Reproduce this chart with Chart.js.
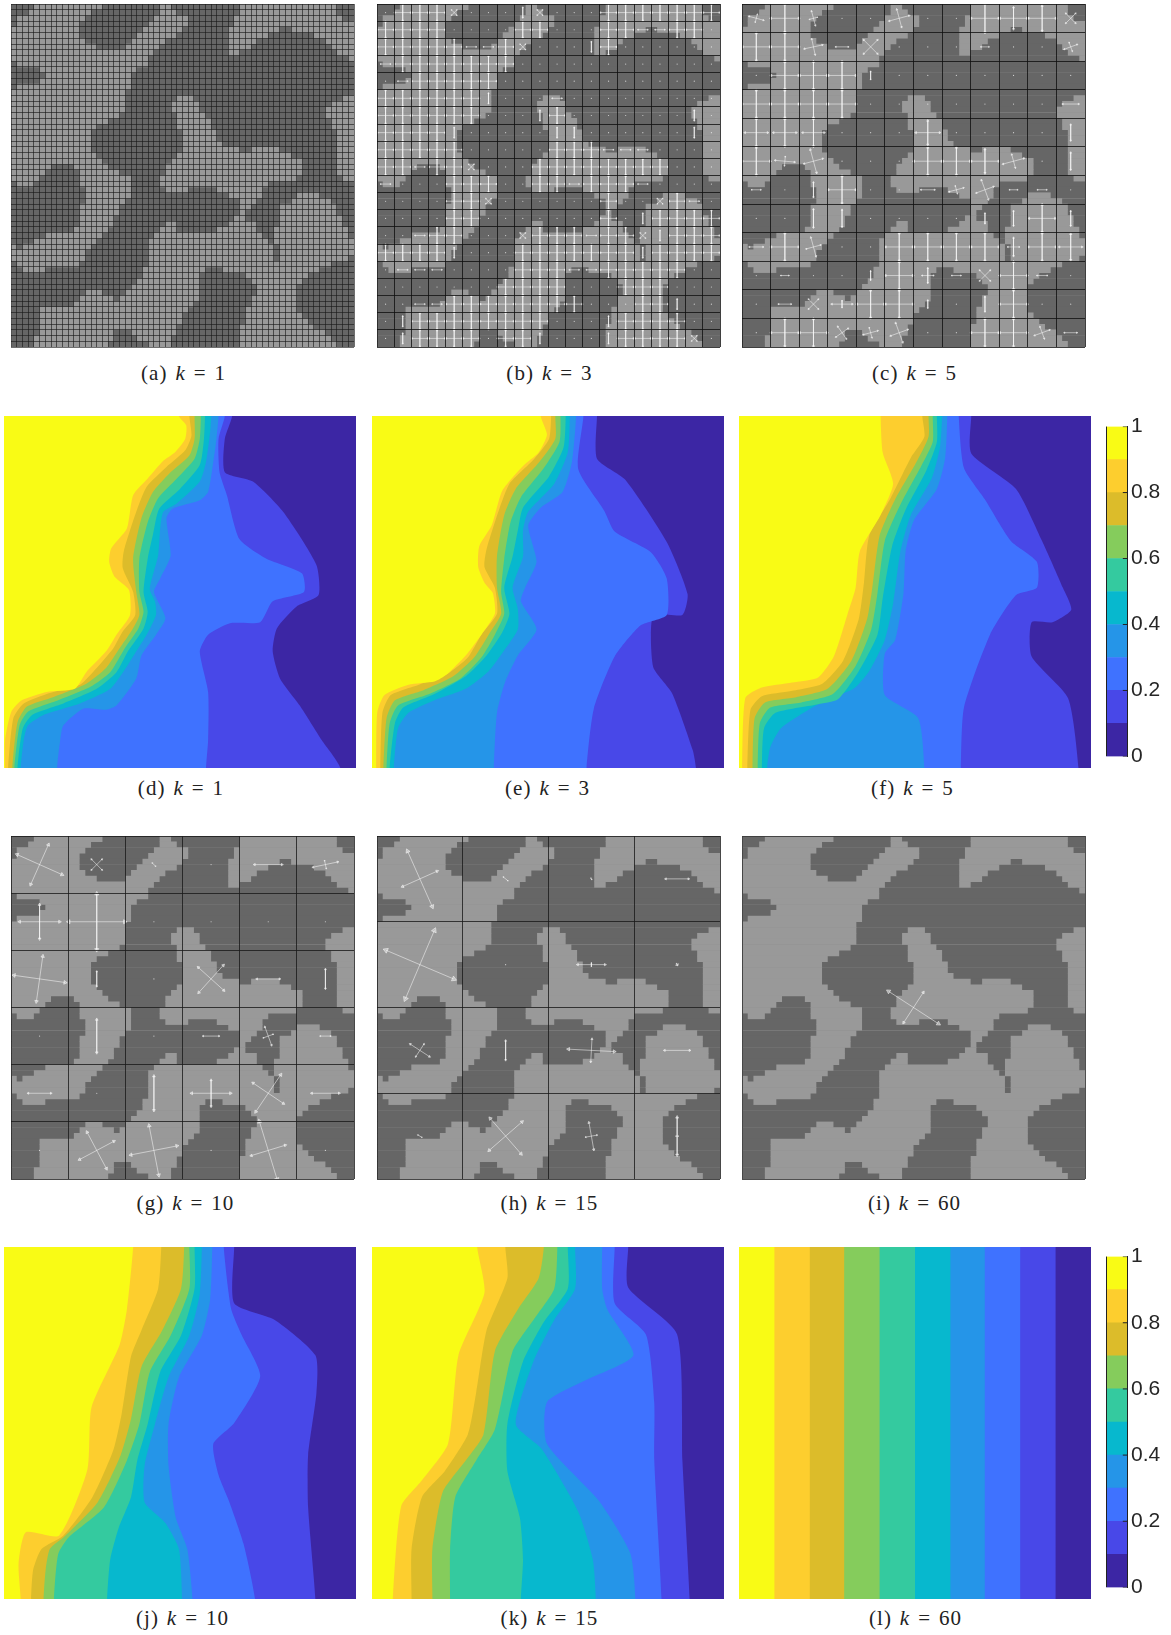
<!DOCTYPE html>
<html>
<head>
<meta charset="utf-8">
<title>Multiscale basis functions</title>
<script src="https://cdn.jsdelivr.net/npm/chart.js@4"></script>
<style>
    html, body { margin: 0; background: #fff; }
    #page { position: relative; width: 1171px; height: 1635px; overflow: hidden; }
    canvas { position: absolute; display: block; }
    .cap { position: absolute; width: 240px; margin-left: -120px; text-align: center; color: #222;
           font: 21px "Liberation Serif", serif; letter-spacing: 1.1px; word-spacing: 1.5px; line-height: 24px; }
</style>
</head>
<body>
<div id="page"></div>
<script>
// Light cells of the 60x60 field, one list of [from, to] columns for each row
const lightRows = [
    [[4,16],[26,28],[40,57]], [[3,14],[26,29],[40,57]], [[1,13],[25,31],[39,58]], [[1,12],[24,31],[39,60]],
    [[0,12],[23,30],[38,47],[49,60]], [[0,12],[22,29],[38,45],[53,60]], [[0,13],[21,27],[38,43],[55,60]],
    [[0,15],[20,26],[38,42],[56,60]], [[0,25],[38,40],[57,60]], [[0,24],[59,60]], [[1,24]], [[5,22]], [[6,21]],
    [[5,21]], [[1,21]], [[0,20]], [[0,20],[29,32],[58,60]], [[0,20],[28,33],[56,60]], [[0,20],[28,33],[55,60]],
    [[0,19],[29,34],[55,60]], [[0,17],[29,35],[56,60]], [[0,15],[29,35],[56,60]], [[0,14],[30,36],[57,60]],
    [[0,14],[30,36],[57,60]], [[0,14],[30,37],[57,60]], [[0,14],[30,40],[42,47],[57,60]], [[0,15],[29,49],[57,60]],
    [[0,16],[28,51],[57,60]], [[0,7],[11,17],[27,51],[57,60]], [[0,6],[12,19],[27,51],[57,60]],
    [[0,5],[12,21],[26,50],[58,60]], [[1,4],[12,21],[26,45]], [[13,21],[27,31],[36,44]],
    [[13,21],[38,44],[50,54]], [[13,20],[40,43],[49,56]], [[12,19],[40,42],[47,57]], [[12,19],[40,41],[47,57]],
    [[12,18],[39,41],[47,58]], [[12,18],[27,29],[38,43],[47,58]], [[11,17],[26,29],[36,43],[46,59]],
    [[6,16],[25,44],[46,59]], [[4,15],[24,45],[46,60]], [[0,1],[2,14],[24,46],[47,60]], [[0,13],[24,46],[47,60]],
    [[0,13],[24,46],[47,59]], [[1,12],[24,56]], [[2,6],[23,34],[37,54]], [[23,33],[41,52]], [[22,33],[42,51]],
    [[21,33],[43,50]], [[13,16],[20,33],[43,50]], [[12,18],[19,33],[42,50]], [[11,32],[42,50]], [[5,31],[41,50]],
    [[5,30],[41,51]], [[5,30],[41,52]], [[5,29],[40,53]], [[5,18],[21,29],[40,55]], [[4,18],[22,28],[40,56]],
    [[4,17],[24,28],[40,57]]
];

// Panel (b): what each of the 20x20 coarse cells shows
const codesB = [
    ".+++x...|x...+++++++", "++++....++...++--++.", "+++++--+x...|+......", "-+++++++............",
    ".-+++++.............", "++++++|...-.........", "++++++...|+.......|.", "++++|.....||......|.",
    "+++++.....+++---....", "++-++x...++++++++...", "-...+++..++-+++-....", "....++x......+..x+-.",
    "....++.......+.|++++", "..-++...x+++-++x|+++", "++++|...+++++++|++++", ".---....+++--+++++..",
    ".......++++...+++...", "..--++++++++...++|..", ".|++++++++...|++++..", ".|++++.++|...|++++x."
];

// Arrow crosses: [column, row, half length, perpendicular half length, angle in degrees]
const arrowsC = [
    [0,0,1.3,.7,15],[1,0,2.45,2.45,0],[2,0,.7,1.3,-15],[5,0,1.8,1.6,-15],[8,0,2.4,2.5,0],[9,0,2.4,1.9,0],[10,0,2.4,2.2,0],[11,0,1.2,1.2,45],
    [0,1,2.4,2.4,0],[1,1,2.45,2.4,0],[2,1,1.6,1.4,-12],[3,1,1.1,0,0],[4,1,1.7,1.7,45],[8,1,.7,0,0],[11,1,1.2,.8,-20],
    [1,2,2.4,2.4,0],[2,2,2.4,2.4,0],[3,2,2.4,2.4,0],[4,2,0,.7,0],
    [0,3,2.45,2.4,0],[1,3,2.45,2.4,0],[2,3,2.45,2.4,0],[3,3,2.45,2.4,0],[11,3,1.4,0,0],
    [0,4,2,2.4,0],[1,4,2,2.4,0],[2,4,1.9,2.4,0],[6,4,2.1,2.1,0],[11,4,0,1.4,0],
    [0,5,2.45,2.4,0],[1,5,1.7,.8,5],[2,5,1.7,2.1,-15],[6,5,2.45,2.4,0],[7,5,2.4,2.4,0],[8,5,2.4,2.1,0],[9,5,1.9,1.2,-15],[11,5,0,1.5,0],
    [0,6,.8,0,0],[2,6,0,1.3,0],[3,6,2.4,2.4,0],[6,6,1.2,0,0],[7,6,1.3,.7,-15],[8,6,1.6,1.8,-20],[9,6,.7,0,0],[10,6,.8,0,0],
    [2,7,0,1.6,0],[3,7,0,1.5,0],[8,7,0,.9,0],[9,7,0,1.3,0],[10,7,2.3,2.4,0],[11,7,0,1.3,0],
    [0,8,1.2,0,0],[1,8,2.4,2.4,0],[2,8,1.3,1.7,-15],[5,8,2.4,2.4,0],[6,8,2.4,2.4,0],[7,8,2.4,2.4,0],[8,8,2.4,2.4,0],[9,8,1,1.6,0],[10,8,2.4,2.4,0],[11,8,2,2.3,0],
    [1,9,.7,0,0],[4,9,0,.8,0],[5,9,2.4,2.4,0],[6,9,1,1.3,0],[7,9,.8,0,0],[8,9,1.3,1.3,45],[9,9,2.4,2.4,0],[10,9,.9,0,0],
    [1,10,1.1,0,0],[2,10,1.2,1.2,45],[3,10,1.8,.6,0],[4,10,2.4,2.4,0],[5,10,2.4,2.4,0],[6,10,0,.7,0],[8,10,0,1.3,0],[9,10,2.4,2.4,0],
    [1,11,2.4,2.4,0],[2,11,2.4,2.4,0],[3,11,1.3,1.3,55],[4,11,1.3,.9,-15],[5,11,1.6,1.8,-20],[8,11,2.4,2.4,0],[9,11,2.4,2.4,0],[10,11,1.4,1.1,-20],[11,11,1.1,0,0]
];
const arrowsG = [
    [0,0,4.3,3.8,24],[1,0,1.3,1.3,45],[2,0,.4,0,45],[4,0,2.4,0,0],[5,0,2.2,.7,-12],
    [0,1,3.5,3,0],[1,1,4.9,4.9,0],
    [0,2,4.5,4,8],[1,2,0,1.3,0],[3,2,3,3.2,42],[4,2,2,0,0],[5,2,0,1.7,0],
    [1,3,0,2.9,0],[3,3,1.4,0,0],[4,3,.9,1.7,-20],[5,3,.9,0,0],
    [0,4,2,0,0],[2,4,0,3,0],[3,4,3.4,2.3,0],[4,4,3.2,3.9,34],[5,4,2.4,0,0],
    [1,5,3.4,3.6,-28],[2,5,4.1,4.4,-11],[4,5,3.1,5.3,-17]
];
const arrowsH = [
    [0,0,3.3,5.3,-24],[1,0,.5,0,40],[2,0,.15,0,60],[3,0,2,0,0],
    [0,1,6.45,6.5,23],[2,1,2.4,.3,0],[3,1,.2,.2,60],
    [0,2,2,1.3,33],[1,2,0,1.7,0],[2,2,4,2,3],[3,2,2.2,0,0],
    [0,3,.4,0,30],[1,3,3.8,4.1,-41],[2,3,1,2.4,-10],[3,3,.2,3.3,0]
];
const arrowsI = [[0,0,5.2,3.15,33]];

// Colours of the ten bands, from 1 down to 0
const bandColors = ['#f9fb15','#fdce2e','#dcbc2a','#85cc5c','#34ca9f','#07b8ce','#2595e8','#3f72ff','#4848e8','#3c26a4'];

// Band edges of the contour panels, x,y pairs (0 to 338)
const contourD = [
    [168,0,175,9,174,22,164,35,153,43,138,60,124,76,118,108,103,127,101,140,106,154,120,167,121,191,108,210,98,226,79,246,68,262,41,265,17,273,7,284,1,311,1,338],
    [178,0,180,19,174,33,156,49,137,68,127,92,115,130,114,146,124,169,126,191,114,207,105,223,89,242,73,258,44,266,19,276,9,290,4,338],
    [183,0,183,22,178,38,159,55,143,73,132,98,124,137,127,169,130,191,122,207,111,223,98,242,79,257,47,270,22,279,13,294,8,338],
    [189,0,188,22,183,41,166,60,148,79,138,102,130,137,130,169,134,188,129,204,116,223,102,246,83,260,52,273,23,284,15,297,10,338],
    [193,0,192,22,188,47,169,70,149,89,143,114,138,137,134,169,138,188,134,204,119,226,108,246,89,262,57,276,27,287,18,300,13,338],
    [199,0,198,15,194,44,188,63,166,84,153,92,150,108,148,134,140,166,145,178,146,191,137,210,127,226,119,239,102,262,73,276,38,287,23,297,19,311,16,338],
    [206,0,204,22,201,44,196,73,188,81,162,89,156,98,160,134,150,156,144,169,155,194,146,210,132,230,127,252,108,278,98,282,76,281,57,297,54,311,51,338],
    [212,0,206,22,207,54,214,76,226,118,252,137,286,151,288,169,258,178,246,198,217,199,196,210,188,226,196,265,196,311,194,338],
    [219,0,212,22,212,54,239,63,268,92,300,143,302,172,281,183,262,204,258,226,265,252,284,278,305,311,323,338]
];
const contourE = [
    [162,0,168,18,160,35,145,48,125,72,115,105,103,125,102,145,108,160,116,170,118,190,105,210,90,230,72,248,60,255,35,258,12,268,5,285,4,338],
    [172,0,170,22,155,42,132,65,122,90,110,128,108,145,118,165,120,190,105,210,92,232,72,248,45,258,18,268,10,285,8,338],
    [176,0,176,22,160,45,138,70,127,95,120,135,120,165,124,190,112,210,98,232,78,250,50,263,22,273,14,290,11,338],
    [181,0,180,25,165,50,143,78,133,102,127,137,124,169,127,190,118,210,105,232,85,252,55,267,25,278,17,295,14,338],
    [186,0,184,30,170,58,145,88,140,110,135,135,127,165,132,190,125,208,110,230,90,250,60,267,30,280,22,295,17,338],
    [190,0,188,35,175,65,150,92,145,110,145,135,135,165,140,185,140,205,127,225,112,245,90,262,60,273,35,285,25,300,21,338],
    [196,0,192,44,183,73,162,88,150,105,158,140,147,165,143,178,158,205,140,230,128,255,120,285,117,338],
    [203,0,198,51,223,91,233,111,268,131,283,156,283,191,258,201,233,231,213,281,206,338],
    [216,0,216,41,243,61,283,121,303,171,298,191,270,191,270,241,288,266,308,321,311,338]
];
const contourF = [
    [136,0,138,35,148,65,136,95,116,130,112,165,104,191,91,231,76,251,51,256,21,261,6,271,3,338],
    [176,0,178,20,165,40,145,80,125,115,120,160,115,195,100,235,80,257,50,264,22,269,11,282,8,338],
    [182,0,182,20,170,45,150,80,135,115,128,165,123,195,108,235,85,262,55,270,25,275,15,290,13,338],
    [186,0,186,25,175,48,155,85,140,120,133,170,127,205,112,240,90,267,60,275,30,280,20,295,18,338],
    [190,0,190,25,180,52,160,90,147,125,138,175,133,210,115,245,95,272,75,277,35,285,24,300,22,338],
    [195,0,193,30,185,60,165,95,155,130,148,180,140,215,125,245,110,262,85,272,62,285,40,300,30,318,27,338],
    [200,0,198,40,190,70,168,100,160,130,158,170,150,215,140,228,140,268,172,290,178,338],
    [211,0,216,50,236,80,261,120,286,140,286,165,266,172,241,210,216,280,213,338],
    [223,0,223,36,266,70,291,120,311,165,319,186,301,198,281,198,281,231,316,271,326,338]
];
const contourJ = [
    [124,0,118,60,111,94,84,154,80,214,53,277,21,274,14,304,16,338],
    [151,0,148,40,132,80,122,105,113,160,105,195,85,240,57,277,36,290,28,310,26,338],
    [173,0,170,40,152,80,132,115,122,165,112,200,90,245,58,278,44,290,40,310,38,338],
    [178,0,178,40,160,85,140,120,130,170,118,205,96,250,62,279,52,295,48,338],
    [183,0,183,40,170,85,150,120,138,170,128,205,122,240,110,270,102,300,99,338],
    [190,0,188,45,178,85,158,125,145,170,135,210,135,245,155,265,168,290,171,338],
    [200,0,198,50,190,85,168,125,158,170,158,210,165,260,176,290,181,338],
    [211,0,218,59,228,84,246,124,221,169,201,189,206,219,216,244,230,285,241,338],
    [221,0,221,54,260,70,299,104,300,140,292,200,292,250,299,338]
];
const contourK = [
    [101,0,108,44,83,104,73,189,48,224,28,249,20,338],
    [128,0,130,30,110,80,100,140,92,180,70,215,48,240,38,290,38,338],
    [165,0,160,30,140,60,118,100,107,180,90,205,68,235,58,290,58,338],
    [178,0,175,40,155,70,135,100,118,175,100,205,80,240,75,290,75,338],
    [188,0,188,40,165,72,145,110,130,170,130,215,142,260,145,300,143,338],
    [195,0,195,40,175,70,155,110,138,170,163,194,198,254,212,300,215,338],
    [221,0,221,40,226,60,251,104,203,129,168,149,168,189,218,244,248,294,253,338],
    [233,0,233,54,263,84,271,149,271,204,278,338],
    [246,0,246,39,293,84,298,204,305,338]
];
const contourL = [
    [34,0,34,338],[68,0,68,338],[101,0,101,338],[135,0,135,338],[169,0,169,338],
    [203,0,203,338],[236,0,236,338],[270,0,270,338],[304,0,304,338]
];

const colorbarLevels = [1,.9,.8,.7,.6,.5,.4,.3,.2,.1,0];
const colorbarTicks = [0,.2,.4,.6,.8,1];

const page = document.getElementById('page');

function addCanvas(left, top, width, height) {
    const canvas = document.createElement('canvas');
    canvas.width = width;
    canvas.height = height;
    canvas.style.cssText = `left:${left}px;top:${top}px;width:${width}px;height:${height}px`;
    page.appendChild(canvas);
    return canvas;
}

function addCaption(centre, top, label, k) {
    const div = document.createElement('div');
    div.className = 'cap';
    div.style.left = centre + 'px';
    div.style.top = (top - 12) + 'px';
    div.innerHTML = `(${label}) <i>k</i> = ${k}`;
    page.appendChild(div);
}

// Turn panel (b) codes into the same arrow lists as the other panels
function codesToArrows(codes) {
    const list = [];
    codes.forEach((line, row) => {
        [...line].forEach((c, col) => {
            if (c === '+') list.push([col, row, 1.4, 1.4, 0]);
            if (c === '-') list.push([col, row, .85, 0, 0]);
            if (c === '|') list.push([col, row, 0, .9, 0]);
            if (c === 'x') list.push([col, row, .65, .65, 45]);
        });
    });
    return list;
}

// One scatter line with gaps for the arrows, and one for the dots of the empty cells
function arrowDatasets(list, cells) {
    const size = 60 / cells;
    const pts = [], radius = [], rotation = [];
    const used = {};
    function addArrow(cx, cy, dx, dy) {
        const len = Math.hypot(dx, dy);
        if (len === 0) return;
        const r = Math.min(3, .4 * len + .4);
        const deg = Math.atan2(dx, -dy) * 180 / Math.PI;
        pts.push({x: cx - dx, y: cy - dy}, {x: cx + dx, y: cy + dy}, {x: null, y: null});
        radius.push(r, r, 0);
        rotation.push(deg + 180, deg, 0);
    }
    list.forEach(([col, row, h, v, ang]) => {
        used[col + '_' + row] = true;
        const cx = (col + .5) * size, cy = (row + .5) * size;
        const a = ang * Math.PI / 180;
        addArrow(cx, cy, h * Math.cos(a), h * Math.sin(a));
        addArrow(cx, cy, -v * Math.sin(a), v * Math.cos(a));
    });
    const dots = [];
    for (let row = 0; row < cells; row++) {
        for (let col = 0; col < cells; col++) {
            if (!used[col + '_' + row] && cells > 1) dots.push({x: (col + .5) * size, y: (row + .5) * size});
        }
    }
    return [{
        type: 'scatter', indexAxis: 'x', order: 0, data: pts, showLine: true, spanGaps: false,
        borderColor: 'rgba(255,255,255,.72)', borderWidth: .7,
        pointStyle: 'triangle', pointRadius: radius, pointRotation: rotation,
        pointBorderColor: 'rgba(255,255,255,.85)', pointBorderWidth: .6, pointBackgroundColor: 'rgba(255,255,255,.4)'
    }, {
        type: 'scatter', indexAxis: 'x', order: 0, data: dots,
        pointRadius: .6, pointBorderWidth: 0, pointBackgroundColor: 'rgba(255,255,255,.7)'
    }];
}

function fieldChart(left, top, step, gridColor, arrows, cells) {
    const lightBars = [], darkBars = [];
    lightRows.forEach((runs, row) => {
        darkBars.push({x: [0, 60], y: row + .5});
        runs.forEach(run => lightBars.push({x: run, y: row + .5}));
    });
    const datasets = [{
        type: 'bar', indexAxis: 'y', order: 1, data: lightBars, backgroundColor: '#999999',
        barThickness: 6.2, inflateAmount: 0, grouped: false
    }, {
        type: 'bar', indexAxis: 'y', order: 2, data: darkBars, backgroundColor: '#666666',
        barThickness: 6.2, inflateAmount: 0, grouped: false
    }];
    if (arrows) datasets.push(...arrowDatasets(arrows, cells));
    const canvas = addCanvas(left - 1, top - 1, 345, 345);
    const axis = {
        type: 'linear', min: 0, max: 60, offset: false,
        afterFit: scale => { scale.width = 0; scale.height = 0; },
        ticks: {display: false, stepSize: step, autoSkip: false},
        grid: {color: gridColor, lineWidth: 1, drawTicks: false, offset: false, z: 1},
        border: {display: false}
    };
    new Chart(canvas, {
        type: 'bar',
        data: {datasets: datasets},
        options: {
            indexAxis: 'y', responsive: false, animation: false, events: [],
            layout: {padding: 1, autoPadding: false},
            scales: {x: axis, y: Object.assign({}, axis, {reverse: true})},
            plugins: {legend: {display: false}, tooltip: {enabled: false}}
        }
    });
}

// Each edge is closed round the left side, the left bands are drawn on top
function contourChart(left, top, edges) {
    const datasets = edges.map((edge, i) => {
        const pts = [{x: -60, y: -40}, {x: edge[0], y: -40}];
        for (let j = 0; j < edge.length; j += 2) pts.push({x: edge[j], y: edge[j + 1]});
        pts.push({x: edge[edge.length - 2], y: 380}, {x: -60, y: 380});
        return {
            data: pts, showLine: true, fill: 'shape', tension: .2, pointRadius: 0, borderWidth: 0,
            backgroundColor: bandColors[i], borderColor: bandColors[i]
        };
    });
    const canvas = addCanvas(left, top, 352, 352);
    canvas.style.background = bandColors[9];
    new Chart(canvas, {
        type: 'scatter',
        data: {datasets: datasets},
        options: {
            responsive: false, animation: false, events: [],
            layout: {autoPadding: false},
            scales: {
                x: {type: 'linear', min: 0, max: 338, display: false},
                y: {type: 'linear', min: 0, max: 338, reverse: true, display: false}
            },
            plugins: {legend: {display: false}, tooltip: {enabled: false}}
        }
    });
}

function colorbar(top, bottom) {
    const segments = bandColors.map((c, i) => ({x: .5, y: [colorbarLevels[i + 1], colorbarLevels[i]]}));
    const marks = [];
    colorbarTicks.forEach(t => marks.push({x: .8, y: t}, {x: 1, y: t}, {x: null, y: null}));
    const canvas = addCanvas(1100, top - 14, 71, bottom - top + 28);
    new Chart(canvas, {
        type: 'bar',
        data: {
            datasets: [{
                data: segments, backgroundColor: bandColors, barPercentage: 1, categoryPercentage: 1, order: 1,
                barThickness: 21
            }, {
                type: 'scatter', order: 0, data: marks, showLine: true, spanGaps: false,
                borderColor: '#222', borderWidth: 1, pointRadius: 0
            }]
        },
        options: {
            responsive: false, animation: false, events: [],
            layout: {padding: {left: 6, top: 14, bottom: 14, right: 0}, autoPadding: false},
            scales: {
                x: {
                    type: 'linear', min: 0, max: 1, offset: false,
                    ticks: {display: false, stepSize: 1},
                    grid: {color: '#222', drawTicks: false, offset: false, z: 1},
                    border: {display: false}
                },
                y: {
                    type: 'linear', position: 'right', min: 0, max: 1,
                    afterFit: scale => { scale.width = 44; },
                    ticks: {
                        stepSize: .2, padding: 4, color: '#262626',
                        font: {family: '"Liberation Sans"', size: 21},
                        callback: v => String(Math.round(v * 10) / 10)
                    },
                    grid: {display: false, drawTicks: false},
                    border: {color: '#222', width: 1}
                }
            },
            plugins: {legend: {display: false}, tooltip: {enabled: false}}
        }
    });
}

fieldChart(11, 4, 1, 'rgba(25,25,25,.62)');
fieldChart(377, 4, 3, 'rgba(15,15,15,.8)', codesToArrows(codesB), 20);
fieldChart(742, 4, 5, 'rgba(15,15,15,.8)', arrowsC, 12);
contourChart(4, 416, contourD);
contourChart(372, 416, contourE);
contourChart(739, 416, contourF);
fieldChart(11, 836, 10, 'rgba(25,25,25,.8)', arrowsG, 6);
fieldChart(377, 836, 15, 'rgba(25,25,25,.8)', arrowsH, 4);
fieldChart(742, 836, 60, 'rgba(60,60,60,.9)', arrowsI, 1);
contourChart(4, 1247, contourJ);
contourChart(372, 1247, contourK);
contourChart(739, 1247, contourL);
colorbar(424, 759);
colorbar(1254, 1590);

addCaption(183.5, 373, 'a', 1);
addCaption(549.5, 373, 'b', 3);
addCaption(914.5, 373, 'c', 5);
addCaption(181, 788, 'd', 1);
addCaption(547.5, 788, 'e', 3);
addCaption(912.5, 788, 'f', 5);
addCaption(185.5, 1203, 'g', 10);
addCaption(549.5, 1203, 'h', 15);
addCaption(914.5, 1203, 'i', 60);
addCaption(182.5, 1618, 'j', 10);
addCaption(549.5, 1618, 'k', 15);
addCaption(915.5, 1618, 'l', 60);
</script>
</body>
</html>
